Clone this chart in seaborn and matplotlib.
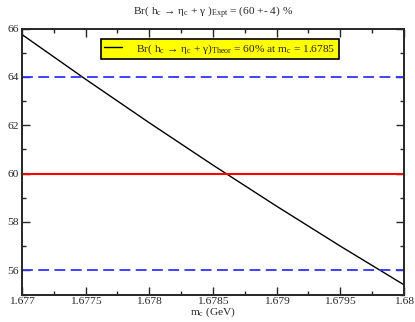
import matplotlib
matplotlib.use("Agg")
import matplotlib.pyplot as plt
from matplotlib.ticker import AutoMinorLocator
import seaborn as sns
import pandas as pd

# values
mass = [1.677, 1.6775, 1.678, 1.6785, 1.679, 1.6795, 1.68]
br_theor = [65.75, 63.9, 62.1, 60.35, 58.65, 57.0, 55.4]
br_expt = 60
br_bounds = [56, 64]
xticks = [1.677, 1.6775, 1.678, 1.6785, 1.679, 1.6795, 1.68]
xticklabels = ["1.677", "1.6775", "1.678", "1.6785", "1.679", "1.6795", "1.68"]
yticks = [56, 58, 60, 62, 64, 66]

df = pd.DataFrame({"m": mass, "br": br_theor})

sns.set_style("ticks")
plt.rcParams["font.family"] = ["Liberation Serif", "DejaVu Serif"]
plt.rcParams["mathtext.fontset"] = "custom"
plt.rcParams["mathtext.rm"] = "Liberation Serif"
plt.rcParams["mathtext.it"] = "Liberation Serif:italic"

fs = 8.2
fig = plt.figure(figsize=(4.15, 3.22), dpi=100)
ax = fig.add_axes([22 / 415, 27.5 / 322, 382 / 415, 266 / 322])

sns.lineplot(data=df, x="m", y="br", color="black", lw=1.0, ax=ax,
             label=r"Br( h$_{\rm c}$ → η$_{\rm c}$ + γ)$_{\rm Theor}$ = 60% at m$_{\rm c}$ = 1.6785")
ax.axhline(br_expt, color="red", lw=1.5)
for b in br_bounds:
    ax.axhline(b, color="#3333ff", lw=1.3, dashes=(6, 3))

ax.set_xlim(1.677, 1.68)
ax.set_ylim(55, 66)
ax.set_xticks(xticks)
ax.set_xticklabels(xticklabels)
ax.set_yticks(yticks)
ax.xaxis.set_minor_locator(AutoMinorLocator(2))
ax.yaxis.set_minor_locator(AutoMinorLocator(2))
ax.tick_params(which="both", direction="in", top=True, right=True,
               labelsize=fs, width=1)
ax.tick_params(axis="x", pad=1.5)
ax.tick_params(axis="y", pad=2)
ax.tick_params(which="major", length=6)
ax.tick_params(which="minor", length=3)
for sp in ax.spines.values():
    sp.set_linewidth(1.4)

ax.set_xlabel(r"m$_{\rm c}$ (GeV)", fontsize=fs, labelpad=0)
ax.set_ylabel("")
ax.set_title(r"Br( h$_{\rm c}$ → η$_{\rm c}$ + γ )$_{\rm Expt}$ = (60 +- 4) %",
             fontsize=fs, pad=10)

leg = ax.legend(loc="center", bbox_to_anchor=(0.518, 0.923), fontsize=fs,
                fancybox=False, framealpha=1, handlelength=1.6,
                borderpad=0.3, handletextpad=1.2)
leg.get_frame().set_facecolor("yellow")
leg.get_frame().set_edgecolor("black")
leg.get_frame().set_linewidth(1.2)

fig.savefig("out.png", dpi=100)
